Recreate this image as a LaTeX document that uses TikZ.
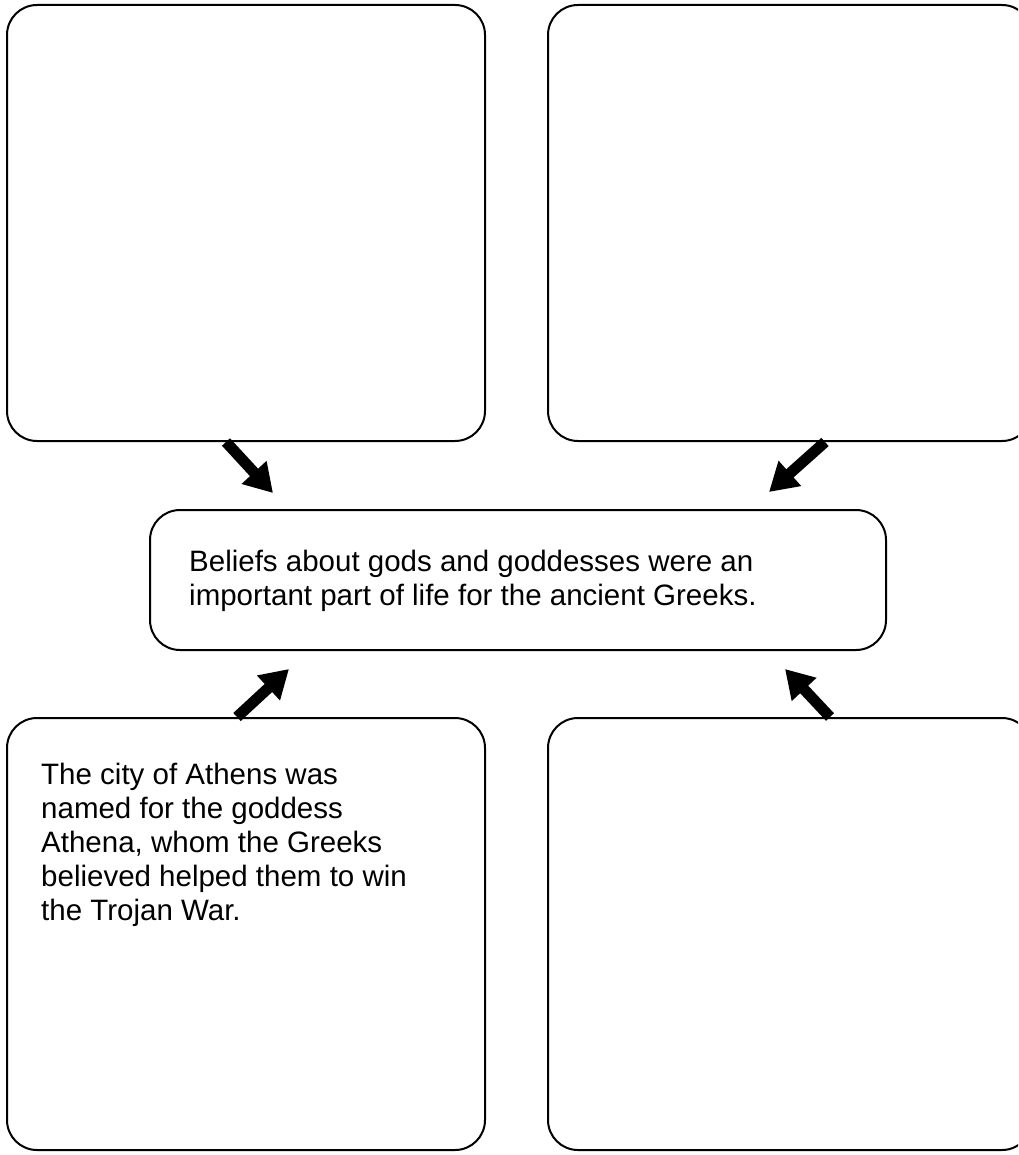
\documentclass[tikz,border=0pt]{standalone}
\usepackage{fontspec}
\setmainfont{Liberation Sans}
\usetikzlibrary{arrows.meta}
\tikzset{
  panel/.style={draw, line width=2pt, rounded corners=30pt, inner sep=0pt},
  note/.style={anchor=north west, align=left, inner sep=0pt, font=\fontsize{29.5}{34}\selectfont},
  fatarrow/.style={line width=11pt, -{Triangle[length=28pt,width=32pt]}}
}
\begin{document}
\begin{tikzpicture}[x=1pt,y=-1pt]
  \useasboundingbox (0,0) rectangle (1018,1155);
  \clip (0,0) rectangle (1018,1155);
  % four outer panels and the middle one
  \node[panel, minimum width=478pt, minimum height=436pt] (tl) at (246,223) {};
  \node[panel, minimum width=484pt, minimum height=436pt] (tr) at (790,223) {};
  \node[panel, minimum width=736pt, minimum height=140pt] (ctr) at (518,580) {};
  \node[panel, minimum width=478pt, minimum height=432pt] (bl) at (246,934) {};
  \node[panel, minimum width=484pt, minimum height=432pt] (br) at (790,934) {};
  % texts
  \node[note] (ctrtext) at (189,550)
    {Beliefs about gods and goddesses were an\\important part of life for the ancient Greeks.};
  \node[note] (bltext) at (41,763)
    {The city of Athens was\\named for the goddess\\Athena, whom the Greeks\\believed helped them to win\\the Trojan War.};
  % arrow tips
  \coordinate (tlend) at (273,493);
  \coordinate (trend) at (769,492);
  \coordinate (blend) at (289,669);
  \coordinate (brend) at (785,669);
  \draw[fatarrow] ([xshift=-20pt]tl.south) -- (tlend);
  \draw[fatarrow] ([xshift=35pt]tr.south) -- (trend);
  \draw[fatarrow] ([xshift=-9pt]bl.north) -- (blend);
  \draw[fatarrow] ([xshift=40pt]br.north) -- (brend);
\end{tikzpicture}
\end{document}
